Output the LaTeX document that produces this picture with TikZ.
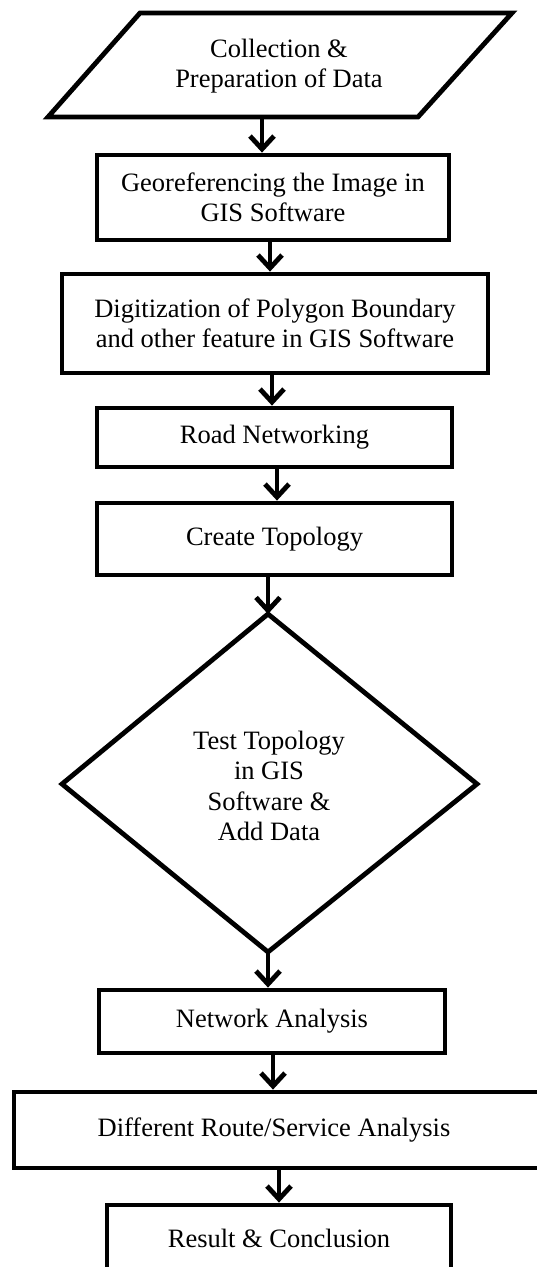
\documentclass[tikz,border=0pt]{standalone}
\usepackage{fontspec}
\setmainfont{Liberation Serif}
\usetikzlibrary{arrows.meta,calc}

\begin{document}
\begin{tikzpicture}[x=1pt,y=-1pt,
  outline/.style={line width=4.8pt,line join=miter},
  stepbox/.style={outline,draw,rectangle,inner sep=0pt,align=center,
    font=\fontsize{26.5}{30}\selectfont},
  label/.style={align=center,inner sep=0pt,font=\fontsize{26.5}{30.5}\selectfont},
  flow/.style={line width=4.8pt,-{Straight Barb[length=13pt,width=24pt]}}]
\useasboundingbox (0,0) rectangle (537,1267);
\clip (0,0) rectangle (537,1267);

% input parallelogram
\coordinate (pTL) at (140,13);
\coordinate (pTR) at (512,13);
\coordinate (pBR) at (418,117);
\coordinate (pBL) at (48,117);
\draw[outline] (pTL) -- (pTR) -- (pBR) -- (pBL) -- cycle;
\node[label] (collect) at (279,66) {Collection \&\\Preparation of Data};
\coordinate (collectS) at (262,117);

% process boxes
\node[stepbox,minimum width=352,minimum height=85] (geo) at (273,197.5)
  {Georeferencing the Image in\\GIS Software};
\node[stepbox,minimum width=426,minimum height=99] (digit) at (275,323.5)
  {Digitization of Polygon Boundary\\and other feature in GIS Software};
\node[stepbox,minimum width=355,minimum height=59] (road) at (274.5,437.5)
  {Road Networking};
\node[stepbox,minimum width=355,minimum height=72] (topo) at (274.5,539)
  {Create Topology};

% decision diamond
\coordinate (dT) at (268,614);
\coordinate (dR) at (477,784);
\coordinate (dB) at (268,952);
\coordinate (dL) at (62,784);
\draw[outline] (dT) -- (dR) -- (dB) -- (dL) -- cycle;
\node[label] (test) at (269,786)
  {Test Topology\\in GIS\\Software \&\\Add Data};

\node[stepbox,minimum width=346,minimum height=63] (net) at (272,1021.5)
  {Network Analysis};
\node[stepbox,minimum width=532,minimum height=76] (route) at (280,1130)
  {\hspace*{-12pt}Different Route/Service Analysis};
\node[stepbox,minimum width=344,minimum height=90] (result) at (279,1250)
  {};
\node[label] (resultText) at (279,1238) {Result \& Conclusion};

% connectors
\draw[flow] (collectS) -- (collectS |- geo.north);
\draw[flow] (geo.south -| 270,0) -- (digit.north -| 270,0);
\draw[flow] (digit.south -| 272,0) -- (road.north -| 272,0);
\draw[flow] (road.south -| 277,0) -- (topo.north -| 277,0);
\draw[flow] (topo.south -| dT) -- (dT);
\draw[flow] (dB) -- (net.north -| dB);
\draw[flow] (net.south -| 273,0) -- (route.north -| 273,0);
\draw[flow] (route.south -| 279,0) -- (result.north -| 279,0);
\end{tikzpicture}
\end{document}
